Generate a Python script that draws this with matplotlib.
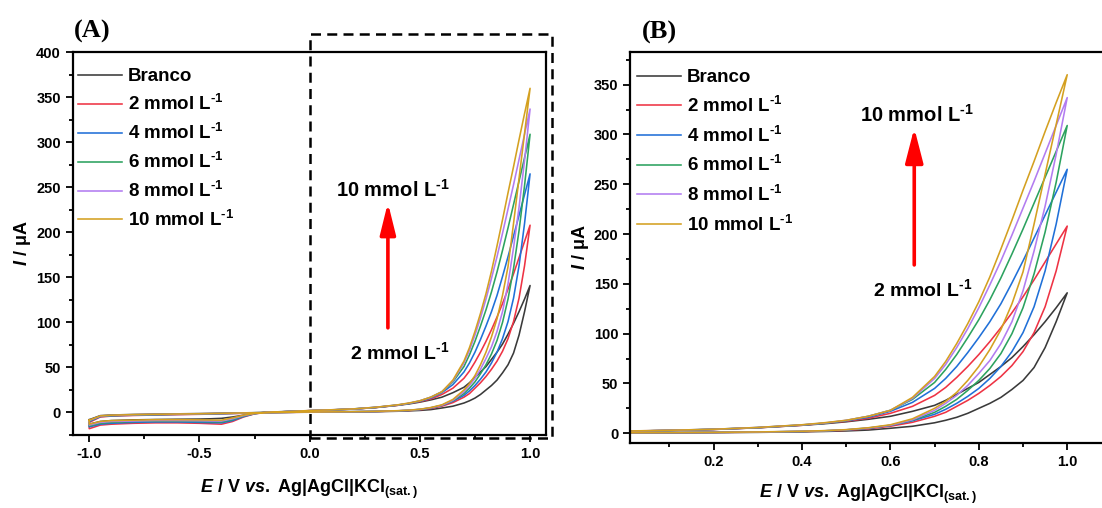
import matplotlib
matplotlib.use("Agg")
import matplotlib.pyplot as plt
from matplotlib.patches import Rectangle
from matplotlib.ticker import MultipleLocator, FormatStrFormatter

# potential grid (V) shared by both scan directions
E_SCAN = [-1.0, -0.95, -0.9, -0.8, -0.7, -0.6, -0.5, -0.45, -0.4, -0.35, -0.3, -0.25, -0.2, -0.1,
          0.0, 0.1, 0.2, 0.3, 0.4, 0.45, 0.5, 0.55, 0.6, 0.65, 0.7,
          0.725, 0.75, 0.775, 0.8, 0.825, 0.85, 0.875, 0.9, 0.925, 0.95, 0.975, 1.0]

# anodic sweep (-1.0 -> 1.0), current in uA
BRANCO_FWD = [-8, -3.5, -2.8, -2.2, -1.8, -1.5, -1.2, -1.0, -0.8, -0.6, -0.4, -0.2, 0.0, 0.2,
              0.3, 0.4, 0.6, 0.9, 1.4, 1.8, 2.3, 3.2, 5, 7, 10.5,
              13, 16, 20, 25, 30, 36, 44, 53, 66, 86, 112, 141]
C2_FWD = [-11, -5, -4, -3.3, -2.8, -2.4, -2.0, -1.8, -1.5, -1.2, -0.9, -0.6, -0.3, 0.1,
          0.4, 0.6, 0.8, 1.1, 1.7, 2.2, 3.0, 4.5, 7, 11, 17,
          21, 27, 33, 40, 48, 57, 68, 82, 101, 127, 163, 208]
C4_FWD = [-10, -4.5, -3.7, -3.0, -2.5, -2.1, -1.8, -1.6, -1.3, -1.0, -0.7, -0.4, -0.2, 0.2,
          0.5, 0.7, 0.9, 1.2, 1.8, 2.4, 3.3, 5, 7.8, 12.5, 19,
          24, 30, 37, 45, 55, 67, 82, 101, 127, 163, 210, 265]
C6_FWD = [-9.5, -4.2, -3.4, -2.8, -2.3, -1.9, -1.6, -1.4, -1.1, -0.9, -0.6, -0.3, -0.1, 0.2,
          0.5, 0.7, 0.9, 1.2, 1.8, 2.4, 3.4, 5.2, 8, 13, 21,
          27, 34, 43, 53, 65, 80, 100, 126, 160, 202, 252, 309]
C8_FWD = [-9, -4, -3.2, -2.6, -2.1, -1.8, -1.5, -1.3, -1.0, -0.8, -0.5, -0.3, -0.1, 0.2,
          0.5, 0.7, 0.9, 1.2, 1.9, 2.5, 3.5, 5.3, 8, 13.5, 23,
          30, 38, 48, 60, 73, 90, 112, 143, 183, 228, 280, 337]
C10_FWD = [-8.5, -3.8, -3.0, -2.4, -2.0, -1.7, -1.4, -1.2, -0.9, -0.7, -0.5, -0.3, -0.1, 0.2,
           0.5, 0.7, 0.9, 1.3, 2.0, 2.6, 3.6, 5.5, 8.5, 14.5, 25,
           32, 41, 53, 67, 84, 104, 130, 162, 210, 260, 310, 360]

# cathodic sweep (1.0 -> -1.0), listed on the same ascending grid
BRANCO_REV = [-13, -10, -9, -8.2, -7.8, -7.5, -7.3, -7.0, -6.5, -5.0, -3.0, -1.0, 0.2, 1.2,
              2.0, 2.8, 3.8, 5.5, 8, 9.5, 11.5, 14, 17, 22, 28,
              33, 39, 45, 51, 59, 67, 76, 87, 99, 112, 126, 141]
C2_REV = [-18, -14, -13, -12, -11.5, -11.5, -12, -12.5, -13, -10, -5, -1.5, 0.0, 1.0,
          2.0, 2.8, 3.8, 5.5, 8, 10, 12, 15, 20, 27, 38,
          46, 56, 67, 79, 92, 106, 121, 137, 154, 172, 190, 208]
C4_REV = [-16, -13, -12, -11, -10.5, -10.5, -11, -11.3, -11.5, -9, -4.5, -1.3, 0.0, 1.0,
          2.0, 2.8, 3.9, 5.6, 8.2, 10, 12.5, 16, 22, 31, 45,
          55, 67, 81, 96, 112, 130, 151, 173, 196, 219, 242, 265]
C6_REV = [-15, -12, -11, -10, -9.8, -9.8, -10, -10.2, -10.5, -8, -4, -1.2, 0.0, 1.0,
          2.0, 2.9, 4.0, 5.7, 8.3, 10, 12.8, 17, 23, 34, 51,
          64, 79, 96, 114, 134, 156, 180, 205, 231, 257, 283, 309]
C8_REV = [-14, -11, -10, -9.5, -9, -9, -9.2, -9.4, -9.5, -7, -3.5, -1.1, 0.0, 1.0,
          2.1, 3.0, 4.0, 5.8, 8.4, 10.2, 13, 17, 23, 35, 55,
          69, 86, 105, 126, 149, 173, 199, 226, 253, 281, 309, 337]
C10_REV = [-13, -10, -9, -8.5, -8, -8, -8.2, -8.4, -8.5, -6, -3, -1.0, 0.0, 1.0,
           2.2, 3.0, 4.0, 5.8, 8.5, 10.5, 13, 17, 23, 36, 57,
           72, 90, 110, 132, 157, 185, 214, 244, 273, 303, 332, 360]

SUP = "$^{\u2010 1}$"
LABELS = ["Branco", "2 mmol L" + SUP, "4 mmol L" + SUP, "6 mmol L" + SUP,
          "8 mmol L" + SUP, "10 mmol L" + SUP]
FWD = [BRANCO_FWD, C2_FWD, C4_FWD, C6_FWD, C8_FWD, C10_FWD]
REV = [BRANCO_REV, C2_REV, C4_REV, C6_REV, C8_REV, C10_REV]
COLORS = ["#3a3a3a", "#ee3344", "#2070d8", "#2ca25f", "#b27cf0", "#d4a020"]

plt.rcParams["font.family"] = ["Liberation Sans", "DejaVu Sans"]
plt.rcParams["font.weight"] = "bold"
plt.rcParams["axes.labelweight"] = "bold"
plt.rcParams["mathtext.fontset"] = "custom"
plt.rcParams["mathtext.rm"] = "Liberation Sans:bold"
plt.rcParams["mathtext.bf"] = "Liberation Sans:bold"
plt.rcParams["mathtext.it"] = "Liberation Sans:italic:bold"

W, H = 1102, 508
fig = plt.figure(figsize=(W / 100, H / 100), dpi=100)
axA = fig.add_axes([72.7 / W, (H - 435) / H, (545.5 - 72.7) / W, (435 - 52.3) / H])
axB = fig.add_axes([630 / W, (H - 442.7) / H, (1107 - 630) / W, (442.7 - 52.3) / H])


def draw_cv(ax):
    for fwd, rev, col, lab in zip(FWD, REV, COLORS, LABELS):
        e = E_SCAN + E_SCAN[::-1] + [E_SCAN[0]]
        i = fwd + rev[::-1] + [fwd[0]]
        ax.plot(e, i, color=col, lw=1.15, label=lab)


def style(ax, xpad):
    for sp in ax.spines.values():
        sp.set_linewidth(1.6)
    ax.tick_params(which="both", direction="out", top=False, right=False,
                   labelsize=10.5, width=1.3)
    ax.tick_params(which="major", length=5)
    ax.tick_params(which="minor", length=3)
    ax.yaxis.set_major_locator(MultipleLocator(50))
    ax.yaxis.set_minor_locator(MultipleLocator(25))
    ax.set_xlabel(r"$\mathit{E}$ / V $\mathit{vs.}$ Ag|AgCl|KCl$_{\rm (sat.)}$",
                  fontsize=13, labelpad=xpad)
    ax.set_ylabel(r"$\mathit{I}$ / μA", fontsize=13, labelpad=2)


def add_legend(ax, x, y, spacing):
    ax.legend(loc="upper left", bbox_to_anchor=(x, y), frameon=False, fontsize=13.5,
              handlelength=2.35, handletextpad=0.32, labelspacing=spacing,
              borderaxespad=0, borderpad=0)


# panel A: full window
draw_cv(axA)
style(axA, 12)
axA.set_xlim(-1.075, 1.07)
axA.set_ylim(-25, 400)
axA.xaxis.set_major_locator(MultipleLocator(0.5))
axA.xaxis.set_minor_locator(MultipleLocator(0.25))
axA.xaxis.set_major_formatter(FormatStrFormatter("%.1f"))
add_legend(axA, 0.011, 0.958, 0.47)
axA.add_patch(Rectangle((0, -28.5), 1.1, 448.5, fill=False, ec="black", lw=1.8,
                        ls=(0, (4, 2.5)), clip_on=False))
axA.annotate("", xy=(0.355, 233), xytext=(0.355, 94),
             arrowprops=dict(arrowstyle="-|>,head_length=1.9,head_width=0.47",
                             color="red", lw=2.6, shrinkA=0, shrinkB=0))
axA.text(0.38, 247, "10 mmol L" + SUP, fontsize=14.5, ha="center", va="center")
axA.text(0.41, 67, "2 mmol L" + SUP, fontsize=14, ha="center", va="center")

# panel B: anodic region
draw_cv(axB)
style(axB, 10)
axB.set_xlim(0.011, 1.09)
axB.set_ylim(-9.5, 382.5)
axB.xaxis.set_major_locator(MultipleLocator(0.2))
axB.xaxis.set_minor_locator(MultipleLocator(0.1))
axB.xaxis.set_major_formatter(FormatStrFormatter("%.1f"))
add_legend(axB, 0.015, 0.957, 0.51)
axB.annotate("", xy=(0.654, 306.5), xytext=(0.654, 169),
             arrowprops=dict(arrowstyle="-|>,head_length=2.1,head_width=0.54",
                             color="red", lw=2.6, shrinkA=0, shrinkB=0))
axB.text(0.66, 320, "10 mmol L" + SUP, fontsize=14.5, ha="center", va="center")
axB.text(0.674, 145, "2 mmol L" + SUP, fontsize=14, ha="center", va="center")

fig.text(92 / W, 1 - 31 / H, "(A)", family="Liberation Serif", weight="bold", fontsize=19,
         ha="center", va="center")
fig.text(659 / W, 1 - 32 / H, "(B)", family="Liberation Serif", weight="bold", fontsize=19,
         ha="center", va="center")

fig.savefig("out.png", dpi=100)
